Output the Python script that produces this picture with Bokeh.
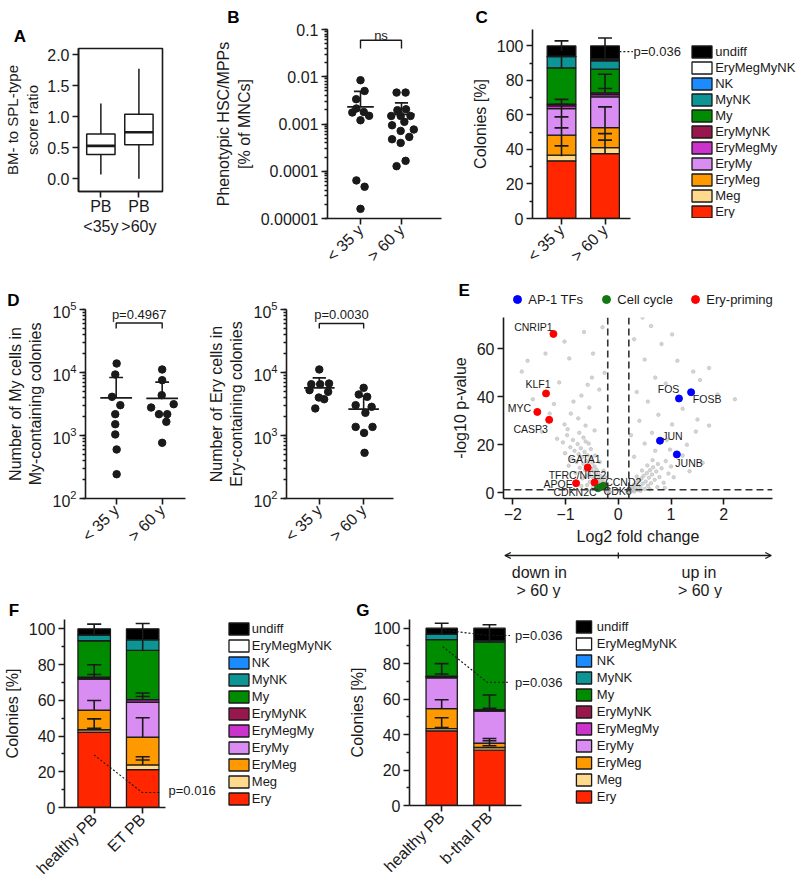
import math
from bokeh.plotting import figure
from bokeh.models import (ColumnDataSource, Range1d, FixedTicker, Label, Legend, LegendItem,
                          Span, NumeralTickFormatter, Arrow, OpenHead, Title)
from bokeh.layouts import row, column
from bokeh.embed import file_html
from bokeh.resources import INLINE
from bokeh.core.properties import value

FONT = "Liberation Sans"
INK = "#1a1a1a"

# ------------------------------------------------------------------ DATA
# Panel A (box plot)
a_groups = ["PB\n<35y", "PB\n>60y"]
a_whisker_low = [0.07, 0.0]
a_q1 = [0.39, 0.55]
a_median = [0.53, 0.75]
a_q3 = [0.72, 1.04]
a_whisker_high = [1.21, 1.77]

age_groups = ["< 35 y", "> 60 y"]

# Panel B (phenotypic HSC/MPPs, % of MNCs)
b_young = [0.00845, 0.0050, 0.00335, 0.00213, 0.00175, 0.0018, 0.00149, 0.0012, 0.000064, 0.000047, 0.000016]
b_young_jitter = [0.0, 0.1, -0.105, -0.1, -0.2, 0.08, 0.21, 0.0, -0.1, 0.1, 0.0]
b_old = [0.00463, 0.00463, 0.00196, 0.00205, 0.00148, 0.00148, 0.00148, 0.00094, 0.00111, 0.000715,
         0.000764, 0.000476, 0.000533, 0.000398, 0.000128, 0.000166]
b_old_jitter = [-0.12, 0.1, -0.1, 0.11, -0.25, -0.02, 0.22, -0.23, 0.07, -0.02, 0.3, -0.23, 0.19, -0.02, -0.12, 0.1]
b_mean = [0.0023, 0.0016]
b_sd_high = [0.0049, 0.0028]

# Colony types (stack order bottom -> top)
colony_types = ["Ery", "Meg", "EryMeg", "EryMy", "EryMegMy", "EryMyNK", "My", "MyNK", "NK", "EryMegMyNK", "undiff"]
colony_colors = ["#ff2600", "#ffd98c", "#ff9900", "#d98cf2", "#cc33cc", "#99174d", "#008c00",
                 "#0d9494", "#1a8cff", "#ffffff", "#000000"]

# Panel C
c_young = [33.4, 3.3, 11.6, 15.4, 1.5, 1.0, 21.1, 6.5, 0.1, 0.1, 6.0]
c_old = [37.6, 3.5, 11.6, 17.8, 1.3, 1.0, 13.7, 4.8, 0.6, 0.6, 7.5]
c_err_x = [1, 1, 1, 2, 2, 2]
c_err_lo = [97.0, 87.3, 36.0, 92.0, 72.8, 38.0]
c_err_hi = [102.9, 94.0, 69.0, 104.6, 83.6, 64.7]
c_caps_young = [102.9, 69.0, 66.2, 58.9, 52.5, 42.1]
c_caps_old = [104.6, 83.6, 75.3, 64.7, 49.2, 45.4]

# Panel D
d_my_young = [13900, 9290, 4110, 3030, 2180, 1510, 1040, 600, 243]
d_my_young_jitter = [0.01, -0.02, -0.09, 0.09, -0.02, -0.02, -0.02, 0.01, 0.01]
d_my_old = [11170, 7550, 4365, 2780, 3140, 2180, 2180, 1650, 766]
d_my_old_jitter = [0.0, 0.0, -0.01, -0.24, 0.25, -0.07, 0.11, 0.09, 0.0]
d_my_mean = [3960, 3870]
d_my_sd_high = [8320, 7030]

d_ery_young = [11170, 6530, 6530, 6690, 5250, 4930, 4010, 3770, 2690]
d_ery_young_jitter = [0.0, -0.18, 0.02, 0.22, -0.22, 0.2, -0.01, 0.11, -0.09]
d_ery_old = [5710, 4480, 4110, 3030, 2850, 2290, 1370, 1370, 1100, 531]
d_ery_old_jitter = [0.0, -0.11, 0.08, -0.18, 0.18, 0.04, -0.18, 0.2, 0.01, 0.02]
d_ery_mean = [5710, 2620]
d_ery_sd_high = [8220, 4210]

# Panel E (volcano)
e_bg_lfc = [-0.16, -0.18, -0.2, -0.21, -0.23, -0.24, -0.26, -0.27, -0.29, -0.30, -0.32, -0.33, -0.34, -0.36,
            -0.37, -0.38, -0.40, -0.41, -0.42, -0.43, -0.45, -0.46, -0.47, -0.49, -0.50, -0.51, -0.53, -0.54,
            -0.55, -0.57, -0.58, -0.60, -0.61, -0.63, -0.64, -0.66, -0.68, -0.69, -0.71, -0.73, -0.75, -0.77,
            -0.79, -0.81, -0.83, -0.86, -0.88, -0.91, -0.94, -0.97, -1.01, -1.05, -0.35, -0.44, -0.52, -0.62,
            -0.28, -0.25, -0.39, -0.48, -0.59, -0.70, -0.56, -0.74, -0.66,
            0.17, 0.2, 0.22, 0.24, 0.26, 0.28, 0.3, 0.32, 0.34, 0.36, 0.38, 0.40, 0.42, 0.44, 0.46, 0.48, 0.50,
            0.52, 0.54, 0.56, 0.58, 0.60, 0.62, 0.64, 0.66, 0.69, 0.72, 0.75, 0.78, 0.82, 0.86, 0.9, 0.95, 1.0,
            0.35, 0.45, 0.55, 0.65, 0.3, 0.42, 0.6, 0.74, 0.88, 1.05,
            -0.73, -0.65, -0.3, -1.02, -1.38, -1.72, -1.83, -0.93, -0.48, -1.12, -0.7, -0.58, -1.22, -0.9,
            -1.02, -0.76, -0.55, -1.45, -1.16, -0.96, -0.36, -0.26, -1.62, -0.85, -0.62, -0.45, -0.5, -1.3,
            0.46, 0.95, 0.62, 0.3, 0.82, 1.02, 1.42, 1.72, 2.21, 1.55, 0.5, 0.7, 0.9, 1.88, 1.22, 1.5, 1.72,
            0.56, 0.76, 1.02, 0.4, 0.64, 0.92, 1.3, 1.47, 0.5, 0.7, 1.22, 1.6, 0.3, 0.35, 1.12, 0.24, 1.35, 0.98]
e_bg_p = [0.4, 1.2, 0.8, 2.0, 1.4, 3.1, 2.2, 4.3, 3.0, 5.6, 2.6, 4.8, 7.0, 3.9,
          6.1, 8.4, 5.2, 9.6, 3.4, 7.3, 11.0, 5.9, 8.8, 12.5, 6.8, 10.1, 14.0, 4.6,
          8.0, 11.9, 15.6, 7.1, 13.2, 9.5, 17.0, 12.0, 6.0, 14.8, 18.6, 10.4, 16.1, 20.3,
          12.8, 8.2, 17.5, 22.0, 14.1, 19.0, 11.3, 24.0, 16.5, 21.0, 12.8, 15.5, 18.2, 21.4,
          9.2, 6.5, 1.8, 2.5, 3.2, 2.8, 20.5, 25.0, 23.0,
          0.3, 0.9, 1.8, 0.6, 2.6, 1.3, 3.4, 2.0, 4.3, 1.1, 3.0, 5.2, 2.2, 6.0, 3.8, 7.1, 1.6,
          4.7, 8.2, 2.9, 6.3, 9.4, 4.0, 7.6, 10.6, 5.4, 8.9, 12.0, 6.6, 10.2, 4.2, 13.2, 8.0, 11.0,
          6.8, 9.3, 11.4, 13.6, 0.5, 0.8, 1.5, 2.4, 2.0, 6.5,
          74.5, 67.0, 69.0, 63.0, 58.0, 55.0, 50.5, 56.0, 58.0, 46.0, 40.5, 45.0, 37.0, 33.0,
          28.5, 31.0, 35.5, 25.5, 22.5, 26.5, 43.0, 50.0, 39.0, 38.0, 28.0, 26.0, 48.0, 33.0,
          73.0, 74.0, 69.5, 64.0, 62.0, 66.0, 50.5, 52.0, 39.0, 47.0, 55.5, 48.0, 45.5, 41.0, 35.0, 30.5, 28.0,
          38.0, 32.5, 28.5, 30.0, 25.0, 22.0, 20.0, 25.5, 20.5, 17.5, 15.5, 12.5, 15.0, 42.0, 55.0, 24.0, 9.0, 18.0]

e_ery_genes = ["CNRIP1", "KLF1", "MYC", "CASP3", "GATA1", "TFRC/NFE2", "APOE"]
e_ery_lfc = [-1.23, -1.37, -1.535, -1.31, -0.58, -0.45, -0.80]
e_ery_p = [66.2, 41.4, 33.7, 30.4, 10.5, 4.3, 4.0]
e_cc_genes = ["CDKN2C", "CDK6", "CCND2"]
e_cc_lfc = [-0.385, -0.335, -0.285]
e_cc_p = [1.9, 2.4, 2.9]
e_ap1_genes = ["FOS", "FOSB", "JUN", "JUNB"]
e_ap1_lfc = [1.15, 1.38, 0.79, 1.11]
e_ap1_p = [39.3, 41.9, 21.7, 16.0]
e_fc_cut = 0.2
e_p_cut = 1.3
e_legend_labels = ["AP-1 TFs", "Cell cycle", "Ery-priming"]
e_legend_colors = ["#0000ff", "#117711", "#ff0000"]

# Panel F
f_groups = ["healthy PB", "ET PB"]
f_healthy = [42.2, 1.3, 11.0, 17.4, 0.3, 0.8, 20.3, 3.3, 0.0, 0.0, 3.4]
f_et = [21.2, 2.6, 15.6, 19.5, 1.5, 0.0, 27.5, 6.0, 0.0, 0.0, 6.1]
f_err_x = [1, 1, 1, 1, 2, 2, 2, 2]
f_err_lo = [96.6, 73.0, 54.5, 43.5, 87.9, 60.4, 39.4, 23.8]
f_err_hi = [102.6, 79.9, 59.9, 49.6, 103.0, 64.1, 50.2, 28.4]
f_caps_healthy = [102.6, 79.9, 74.4, 59.9, 49.6, 44.3]
f_caps_et = [103.0, 64.1, 62.1, 50.2, 28.4, 26.6]

# Panel G
g_groups = ["healthy PB", "b-thal PB"]
g_healthy = [42.1, 1.3, 11.2, 17.4, 0.3, 0.6, 20.6, 3.1, 0.0, 0.0, 3.4]
g_bthal = [31.2, 1.5, 2.5, 18.1, 0.7, 0.0, 38.1, 0.9, 0.0, 0.0, 7.0]
g_err_x = [1, 1, 1, 1, 2, 2, 2]
g_err_lo = [96.6, 73.5, 54.6, 43.4, 92.0, 54.0, 33.7]
g_err_hi = [102.8, 80.0, 59.6, 49.5, 101.9, 62.3, 37.8]
g_caps_healthy = [102.8, 80.0, 74.2, 59.6, 49.5, 43.9]
g_caps_bthal = [101.9, 62.3, 54.8, 37.8, 36.5, 33.7]


# ------------------------------------------------------------------ HELPERS
def make_fig(w, h, xr, yr, borders, y_axis_type="linear", axes=True):
    l, r, t, b = borders
    kw = {}
    if not axes:
        kw = dict(x_axis_location=None, y_axis_location=None)
    p = figure(width=w, height=h, x_range=xr, y_range=yr, y_axis_type=y_axis_type,
               output_backend="svg", toolbar_location=None, min_border=0,
               min_border_left=l, min_border_right=r, min_border_top=t, min_border_bottom=b, **kw)
    if hasattr(p, "frame_align"):
        p.frame_align = False
    p.grid.visible = False
    p.outline_line_color = None
    p.background_fill_color = "white"
    p.border_fill_color = "white"
    for ax in p.axis:
        ax.axis_line_color = INK
        ax.axis_line_width = 1.6
        ax.major_tick_line_color = INK
        ax.major_tick_line_width = 1.6
        ax.minor_tick_line_color = INK
        ax.minor_tick_line_width = 1.3
        ax.major_tick_in = 0
        ax.major_tick_out = 6
        ax.minor_tick_in = 0
        ax.minor_tick_out = 3
        ax.major_label_text_font = FONT
        ax.major_label_text_font_size = "16px"
        ax.major_label_text_color = INK
        ax.axis_label_text_font = FONT
        ax.axis_label_text_font_size = "16px"
        ax.axis_label_text_font_style = "normal"
        ax.axis_label_text_color = INK
        ax.major_label_standoff = 3
        ax.axis_label_standoff = 5
    return p


def letter(p, txt, offset, standoff):
    p.add_layout(Title(text=txt, align="left", offset=offset, standoff=standoff,
                       text_font=FONT, text_font_size="17px", text_font_style="bold",
                       text_color="#000000"), "above")


def cat_axis(p, labels, rotate=True):
    p.xaxis.ticker = FixedTicker(ticks=[1, 2])
    p.xaxis.major_label_overrides = {1: labels[0], 2: labels[1]}
    if rotate:
        p.xaxis.major_label_orientation = math.pi / 4


def note(p, x, y, txt, align="left"):
    p.add_layout(Label(x=x, y=y, text=txt, text_font=FONT, text_font_size="13px",
                       text_align=align, text_baseline="middle", text_color=INK))


def dot_panel(p, young, yj, old, oj, mean, sd_high, mean_w, cap_w):
    p.scatter([1 + j for j in yj], young, size=7.5, color=INK)
    p.scatter([2 + j for j in oj], old, size=7.5, color=INK)
    xs = [1, 2]
    p.segment(x0=[x - mean_w / 2 for x in xs], y0=mean, x1=[x + mean_w / 2 for x in xs], y1=mean,
              line_color=INK, line_width=1.8)
    p.segment(x0=xs, y0=mean, x1=xs, y1=sd_high, line_color=INK, line_width=1.6)
    p.segment(x0=[x - cap_w / 2 for x in xs], y0=sd_high, x1=[x + cap_w / 2 for x in xs], y1=sd_high,
              line_color=INK, line_width=1.6)


def bracket(p, y_leg, y_top):
    p.line([1, 1, 2, 2], [y_leg, y_top, y_top, y_leg], line_color=INK, line_width=1.4)


def stacked(p, first, second, width, err_x, err_lo, err_hi, caps1, caps2, cap_w):
    data = dict(x=[1, 2])
    for i, t in enumerate(colony_types):
        data[t] = [first[i], second[i]]
    src = ColumnDataSource(data)
    rs = p.vbar_stack(colony_types, x="x", width=width, source=src,
                      fill_color=colony_colors, line_color=INK, line_width=1.3)
    p.segment(x0=err_x, y0=err_lo, x1=err_x, y1=err_hi, line_color=INK, line_width=1.6)
    cx = [1] * len(caps1) + [2] * len(caps2)
    cy = caps1 + caps2
    p.segment(x0=[x - cap_w / 2 for x in cx], y0=cy, x1=[x + cap_w / 2 for x in cx], y1=cy,
              line_color=INK, line_width=1.6)
    p.yaxis.ticker = FixedTicker(ticks=[0, 20, 40, 60, 80, 100], minor_ticks=[10, 30, 50, 70, 90])
    p.yaxis.axis_label = "Colonies [%]"
    return rs


def colony_legend(p, rs, vx, vy, gw, pitch, standoff=1):
    items = [LegendItem(label=t, renderers=[r]) for t, r in zip(colony_types, rs)][::-1]
    leg = Legend(items=items, location=(vx, vy), glyph_width=gw, glyph_height=15,
                 label_height=pitch, label_standoff=standoff, spacing=0, padding=0, margin=0,
                 label_text_font=FONT, label_text_font_size="13px", label_text_color=INK,
                 border_line_color=None, background_fill_alpha=0)
    p.add_layout(leg)


# ------------------------------------------------------------------ PANEL A
pA = make_fig(190, 280, Range1d(0.412, 2.62), Range1d(-0.204, 2.097), (73, 28, 48, 89))
pA.outline_line_color = INK
pA.outline_line_width = 1.6
ax_x = [1, 2]
box_w = 0.745
pA.segment(x0=ax_x, y0=a_whisker_low, x1=ax_x, y1=a_q1, line_color=INK, line_width=1.5)
pA.segment(x0=ax_x, y0=a_q3, x1=ax_x, y1=a_whisker_high, line_color=INK, line_width=1.5)
pA.vbar(x=ax_x, width=box_w, bottom=a_q1, top=a_q3, fill_color="white", line_color=INK, line_width=1.5)
pA.segment(x0=[x - box_w / 2 for x in ax_x], y0=a_median, x1=[x + box_w / 2 for x in ax_x], y1=a_median,
           line_color=INK, line_width=2.6)
pA.yaxis.ticker = FixedTicker(ticks=[0, 0.5, 1.0, 1.5, 2.0])
pA.yaxis.formatter = NumeralTickFormatter(format="0.0")
pA.yaxis.axis_label = "BM- to SPL-type\nscore ratio"
pA.yaxis.axis_label_text_font_size = "15px"
pA.yaxis.axis_label_standoff = 3
cat_axis(pA, a_groups, rotate=False)
pA.xaxis.major_label_standoff = 0
letter(pA, "A", -64.7, 5)

# ------------------------------------------------------------------ PANEL B
pB = make_fig(255, 280, Range1d(0.195, 2.976), Range1d(1e-5, 0.1), (137, 4, 29, 62), y_axis_type="log")
dot_panel(pB, b_young, b_young_jitter, b_old, b_old_jitter, b_mean, b_sd_high, 0.65, 0.32)
bracket(pB, 0.0396, 0.0594)
note(pB, 1.5, 0.0758, "ns", align="center")
pB.yaxis.formatter = NumeralTickFormatter(format="0.[00000]")
pB.yaxis.axis_label = "Phenotypic HSC/MPPs\n[% of MNCs]"
cat_axis(pB, age_groups)
letter(pB, "B", -100.3, 6)

# ------------------------------------------------------------------ PANEL C
pC = make_fig(355, 280, Range1d(0.333, 6.494), Range1d(0, 109.5), (87, 0, 29, 62))
pC.xaxis.bounds = (0.333, 2.586)
rsC = stacked(pC, c_young, c_old, 0.66, c_err_x, c_err_lo, c_err_hi, c_caps_young, c_caps_old, 0.32)
pC.line([2.33, 2.64], [96.7, 96.7], line_color=INK, line_width=1.1, line_dash="2 2")
note(pC, 2.655, 96.5, "p=0.036")
cat_axis(pC, age_groups)
colony_legend(pC, rsC, 157.2, -1, 25, 16)
letter(pC, "C", -57, 6)

# ------------------------------------------------------------------ PANEL D
pD1 = make_fig(205, 318, Range1d(0.333, 2.507), Range1d(1e2, 1e5), (85, 20, 29, 100), y_axis_type="log")
dot_panel(pD1, d_my_young, d_my_young_jitter, d_my_old, d_my_old_jitter, d_my_mean, d_my_sd_high, 0.69, 0.3)
bracket(pD1, 49900, 61200)
note(pD1, 1.5, 83300, "p=0.4967", align="center")
pD1.yaxis.axis_label = "Number of My cells in\nMy-containing colonies"
cat_axis(pD1, age_groups)
letter(pD1, "D", -78.3, 0)

pD2 = make_fig(225, 318, Range1d(0.261, 2.673), Range1d(1e2, 1e5), (78, 37, 29, 100), y_axis_type="log")
dot_panel(pD2, d_ery_young, d_ery_young_jitter, d_ery_old, d_ery_old_jitter, d_ery_mean, d_ery_sd_high, 0.69, 0.3)
bracket(pD2, 49900, 60000)
note(pD2, 1.5, 83300, "p=0.0030", align="center")
pD2.yaxis.axis_label = "Number of Ery cells in\nEry-containing colonies"
cat_axis(pD2, age_groups)

# ------------------------------------------------------------------ PANEL E
# header strip (panel letter + legend), pixel-unit ranges; legend swatches use off-range stand-in points
pE0 = make_fig(370, 37, Range1d(0, 370), Range1d(0, 37), (0, 0, 0, 0), axes=False)
leg_rs = [pE0.scatter(x=[-50], y=[-50], size=8, color=c) for c in e_legend_colors]
pE0.add_layout(Legend(items=[LegendItem(label=l, renderers=[r]) for l, r in zip(e_legend_labels, leg_rs)],
                      location=(77.3, 7.7), orientation="horizontal", glyph_width=20, glyph_height=20,
                      label_standoff=1, label_width=66, label_height=16, padding=0, margin=0, spacing=2,
                      label_text_font=FONT, label_text_font_size="13px", label_text_color=INK,
                      border_line_color=None, background_fill_alpha=0))
pE0.add_layout(Label(x=28, y=27, text="E", text_font=FONT, text_font_size="17px", text_font_style="bold",
                     text_baseline="middle", text_align="left", text_color="#000000"))

pE = make_fig(370, 231, Range1d(-2.176, 2.923), Range1d(-2.375, 73.04), (73, 28, 0, 50))
pE.scatter(e_bg_lfc, e_bg_p, size=3.5, color="#b5b5b5", alpha=0.55)
for loc in (-e_fc_cut, e_fc_cut):
    pE.add_layout(Span(location=loc, dimension="height", line_color="#333333", line_width=1.6, line_dash="7 4"))
pE.add_layout(Span(location=e_p_cut, dimension="width", line_color="#333333", line_width=1.6, line_dash="7 4"))

pE.scatter(e_ery_lfc, e_ery_p, size=7, color=e_legend_colors[2])
pE.scatter(e_cc_lfc, e_cc_p, size=7, color=e_legend_colors[1])
pE.scatter(e_ap1_lfc, e_ap1_p, size=7, color=e_legend_colors[0])

lab_src = ColumnDataSource(dict(
    x=e_ery_lfc + e_cc_lfc + e_ap1_lfc,
    y=e_ery_p + e_cc_p + e_ap1_p,
    t=e_ery_genes + e_cc_genes + e_ap1_genes,
    dx=[-20, -8, -18, -18.5, -3.5, -17, -18, -23, 17, 20, -10.4, 16, 12.5, 12.2],
    dy=[-6.6, -9.4, -4, 9.3, -8.7, -7.7, 0.7, 3.3, 4.2, -3.6, -9.7, 7, -4.6, 8.7],
))
pE.text(x="x", y="y", text="t", x_offset="dx", y_offset="dy", source=lab_src,
        text_font=value(FONT), text_font_size="10.5px", text_align="center",
        text_baseline="middle", text_color=INK)
pE.xaxis.ticker = FixedTicker(ticks=[-2, -1, 0, 1, 2])
pE.yaxis.ticker = FixedTicker(ticks=[0, 20, 40, 60])
pE.xaxis.axis_label = "Log2 fold change"
pE.yaxis.axis_label = "-log10 p-value"

pE2 = make_fig(370, 50, pE.x_range, Range1d(0, 50), (73, 28, 0, 0), axes=False)
pE2.add_layout(Arrow(end=OpenHead(size=6, line_width=1.3, line_color=INK), x_start=0, y_start=43,
                     x_end=-2.15, y_end=43, line_width=1.3, line_color=INK))
pE2.add_layout(Arrow(end=OpenHead(size=6, line_width=1.3, line_color=INK), x_start=0, y_start=43,
                     x_end=2.9, y_end=43, line_width=1.3, line_color=INK))
pE2.segment(x0=[0], y0=[40], x1=[0], y1=[46], line_color=INK, line_width=1.3)
pE2.text(x=[-2.02, -1.93, 1.2, 1.13], y=[26, 8, 26, 8], text=["down in", "> 60 y", "up in", "> 60 y"],
         text_font=value(FONT), text_font_size="16px", text_align="left", text_baseline="middle",
         text_color=INK)

# ------------------------------------------------------------------ PANEL F
pF = make_fig(345, 290, Range1d(0.388, 6.181), Range1d(0, 105.2), (64, 0, 20, 81))
pF.xaxis.bounds = (0.388, 2.47)
rsF = stacked(pF, f_healthy, f_et, 0.67, f_err_x, f_err_lo, f_err_hi, f_caps_healthy, f_caps_et, 0.29)
pF.line([1.0, 1.99, 2.37], [29.4, 8.4, 8.4], line_color=INK, line_width=1.1, line_dash="2 2")
note(pF, 2.532, 9.3, "p=0.016")
cat_axis(pF, f_groups)
colony_legend(pF, rsF, 161.8, 0, 25, 17)
letter(pF, "F", -55.7, 0)

# ------------------------------------------------------------------ PANEL G
pG = make_fig(455, 290, Range1d(0.327, 8.505), Range1d(0, 104.9), (60, 0, 20, 83))
pG.xaxis.bounds = (0.327, 2.673)
rsG = stacked(pG, g_healthy, g_bthal, 0.654, g_err_x, g_err_lo, g_err_hi, g_caps_healthy, g_caps_bthal, 0.29)
pG.line([0.98, 1.98, 2.43], [99.1, 95.9, 95.9], line_color=INK, line_width=1.1, line_dash="2 2")
pG.line([1.02, 1.95, 2.43], [89.7, 69.5, 69.5], line_color=INK, line_width=1.1, line_dash="2 2")
note(pG, 2.536, 95.9, "p=0.036")
note(pG, 2.536, 69.5, "p=0.036")
cat_axis(pG, g_groups)
colony_legend(pG, rsG, 164.8, 0, 19, 17, standoff=4)
letter(pG, "G", -53.3, 0)

# ------------------------------------------------------------------ LAYOUT
layout = column(
    row(pA, pB, pC),
    row(pD1, pD2, column(pE0, pE, pE2)),
    row(pF, pG),
)

open("out.html", "w").write(file_html(layout, INLINE))
